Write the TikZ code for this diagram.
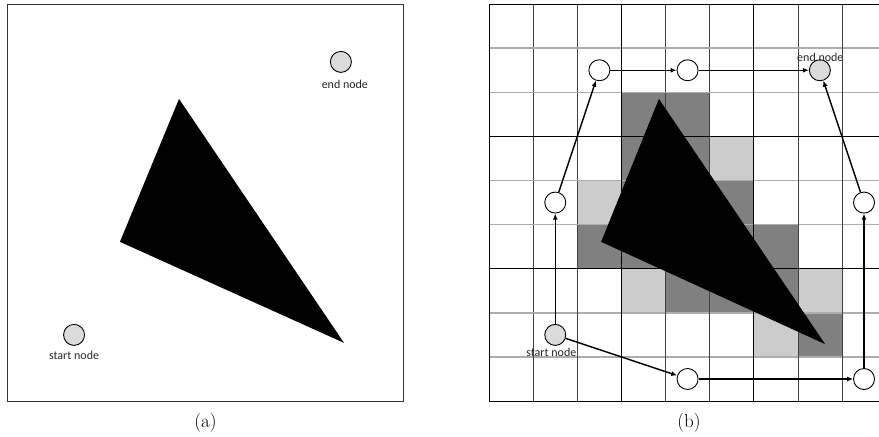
\documentclass[tikz,border=0pt]{standalone}
\usepackage{fontspec}
\newfontfamily\lblfont{Carlito}
\usetikzlibrary{arrows.meta}

\begin{document}
\begin{tikzpicture}[x=44.1pt,y=44.1pt,>={Latex[length=6pt,width=5pt]},
  pt/.style={circle,draw,line width=0.9pt,minimum size=21pt,inner sep=0pt,fill=white},
  term/.style={pt,fill=black!14},
  lbl/.style={font=\lblfont\fontsize{12}{13}\selectfont,inner sep=0pt,text=black!85},
  captxt/.style={font=\fontsize{19}{20}\selectfont,inner sep=0pt},
  dk/.style={fill=black!50},
  lt/.style={fill=black!20}]
\useasboundingbox (-0.159,-0.794) rectangle (19.77,9.093);
% (a): obstacle only
\draw[line width=1pt,black!80] (0,0) rectangle (9,9);
\fill (3.90,6.85)--(2.56,3.61)--(7.64,1.32)--cycle;
\node[term] (s) at (1.52,1.50) {};
\node[lbl] (sl) at (1.52,1.04) {start node};
\node[term] (e) at (7.57,7.69) {};
\node[lbl] (el) at (7.66,7.19) {end node};
\node[captxt] (ca) at (4.5,-0.5) {(a)};
% (b): grid, occupied cells and path
\begin{scope}[shift={(10.93,0)}]
\foreach \c/\r in {3/6,4/6,3/5,4/5,3/4,4/4,5/4,2/3,3/3,4/3,5/3,6/3,4/2,5/2,6/2,7/1}
  \fill[dk] (\c,\r) rectangle ++(1,1);
\foreach \c/\r in {5/5,2/4,3/2,7/2,6/1}
  \fill[lt] (\c,\r) rectangle ++(1,1);
\foreach \i in {1,2,4,5,7,8} {
  \draw[black!32,line width=1.5pt] (0,\i)--(9,\i);
  \draw[black!75,line width=0.6pt] (\i,0)--(\i,9);
}
\foreach \i in {3,6} {
  \draw[line width=1.1pt] (0,\i)--(9,\i);
  \draw[line width=1.1pt] (\i,0)--(\i,9);
}
\draw[line width=1.1pt] (0,0) rectangle (9,9);
\fill (3.85,6.85)--(2.54,3.61)--(7.62,1.29)--cycle;
\node[term] (bs) at (1.5,1.5) {};
\node[lbl] (bsl) at (1.41,1.11) {start node};
\node[pt] (p1) at (1.5,4.5) {};
\node[pt] (p2) at (2.5,7.5) {};
\node[pt] (p3) at (4.5,7.5) {};
\node[term] (be) at (7.5,7.5) {};
\node[lbl] (bel) at (7.51,7.80) {end node};
\node[pt] (q1) at (4.5,0.5) {};
\node[pt] (q2) at (8.5,0.5) {};
\node[pt] (q3) at (8.5,4.5) {};
\draw[->,line width=1.4pt] (bs)--(p1);
\draw[->,line width=1.4pt] (p1)--(p2);
\draw[->,line width=1.4pt] (p2)--(p3);
\draw[->,line width=1.4pt] (p3)--(be);
\draw[->,line width=1.4pt] (bs)--(q1);
\draw[->,line width=1.4pt] (q1)--(q2);
\draw[->,line width=1.4pt] (q2)--(q3);
\draw[->,line width=1.4pt] (q3)--(be);
\node[captxt] (cb) at (4.53,-0.5) {(b)};
\end{scope}
\end{tikzpicture}
\end{document}
